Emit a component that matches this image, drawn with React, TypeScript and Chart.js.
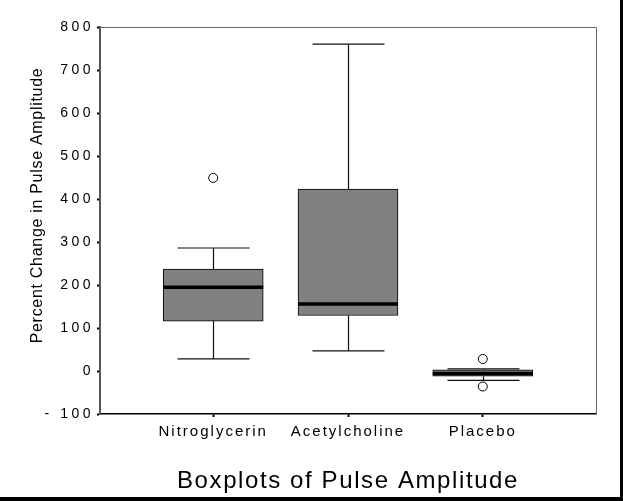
import React, { useEffect, useRef } from 'react';
import { Chart, registerables } from 'chart.js';

Chart.register(...registerables);

// ---- data ----
const categories = ['Nitroglycerin', 'Acetylcholine', 'Placebo'];
const whiskerLow = [28, 47, -22];
const quartile1 = [116, 129, -12];
const medians = [195, 156, -6];
const quartile3 = [237, 423, 3];
const whiskerHigh = [286, 760, 5];
const outlierCategory = [1, 3, 3];
const outlierValues = [449, 28, -36];
const yTickValues = [-100, 0, 100, 200, 300, 400, 500, 600, 700, 800];
const chartTitle = 'Boxplots of Pulse Amplitude';
const yAxisTitle = 'Percent Change in Pulse Amplitude';

// ---- styles ----
const FONT = '"Liberation Sans", Arial, Helvetica, sans-serif';
const CANVAS_W = 620;
const CANVAS_H = 497;
const BOX_W = 100;
const CAP_W = 72;

const boxplotPlugin = {
  id: 'boxplotExtras',
  beforeLayout(chart: any) {
    chart.ctx.letterSpacing = '2px';
  },
  beforeDraw(chart: any) {
    // spacing for x category labels (drawn before datasets)
    chart.ctx.letterSpacing = '2px';
  },
  beforeDatasetsDraw(chart: any) {
    const { ctx, scales } = chart;
    const x = scales.x;
    const y = scales.y;
    ctx.save();
    ctx.strokeStyle = '#111';
    ctx.lineWidth = 1.2;
    categories.forEach((_, i) => {
      const cx = Math.round(x.getPixelForValue(i + 1)) + 0.5;
      const yHi = y.getPixelForValue(whiskerHigh[i]);
      const yLo = y.getPixelForValue(whiskerLow[i]);
      const yQ3 = y.getPixelForValue(quartile3[i]);
      const yQ1 = y.getPixelForValue(quartile1[i]);
      ctx.beginPath();
      ctx.moveTo(cx, yQ3);
      ctx.lineTo(cx, yHi);
      ctx.moveTo(cx, yQ1);
      ctx.lineTo(cx, yLo);
      ctx.moveTo(cx - CAP_W / 2, yHi);
      ctx.lineTo(cx + CAP_W / 2, yHi);
      ctx.moveTo(cx - CAP_W / 2, yLo);
      ctx.lineTo(cx + CAP_W / 2, yLo);
      ctx.stroke();
    });
    ctx.restore();
  },
  afterDatasetsDraw(chart: any) {
    const { ctx, scales } = chart;
    const x = scales.x;
    const y = scales.y;
    ctx.save();
    ctx.strokeStyle = '#000';
    ctx.lineWidth = 3.5;
    categories.forEach((_, i) => {
      const cx = x.getPixelForValue(i + 1);
      const ym = y.getPixelForValue(medians[i]);
      ctx.beginPath();
      ctx.moveTo(cx - BOX_W / 2, ym);
      ctx.lineTo(cx + BOX_W / 2, ym);
      ctx.stroke();
    });
    ctx.restore();
    // spacing for y tick labels (drawn after datasets, z = 1)
    ctx.letterSpacing = '3.5px';
  },
  afterDraw(chart: any) {
    const { ctx, chartArea } = chart;
    ctx.save();
    // top and right frame
    ctx.strokeStyle = '#666';
    ctx.lineWidth = 1;
    ctx.beginPath();
    ctx.moveTo(chartArea.left, chartArea.top + 0.5);
    ctx.lineTo(chartArea.right + 0.5, chartArea.top + 0.5);
    ctx.lineTo(chartArea.right + 0.5, chartArea.bottom);
    ctx.stroke();

    // y axis title
    ctx.fillStyle = '#000';
    ctx.textAlign = 'center';
    ctx.textBaseline = 'alphabetic';
    ctx.letterSpacing = '0.7px';
    ctx.font = `16px ${FONT}`;
    ctx.save();
    ctx.translate(41.5, (chartArea.top + chartArea.bottom) / 2 - 15);
    ctx.rotate(-Math.PI / 2);
    ctx.fillText(yAxisTitle, 0, 0);
    ctx.restore();

    // main title below chart
    ctx.letterSpacing = '1.6px';
    ctx.font = `24px ${FONT}`;
    ctx.fillText(chartTitle, (chartArea.left + chartArea.right) / 2, 488);
    ctx.restore();
  },
};

export default function App() {
  const canvasRef = useRef<HTMLCanvasElement | null>(null);

  useEffect(() => {
    document.body.style.margin = '0';
    const canvas = canvasRef.current;
    if (!canvas) return;

    const chart = new Chart(canvas, {
      type: 'bar',
      data: {
        datasets: [
          {
            type: 'bar',
            data: categories.map((_, i) => ({ x: i + 1, y: [quartile1[i], quartile3[i]] })) as any,
            backgroundColor: '#808080',
            borderColor: '#000',
            borderWidth: 1,
            borderSkipped: false,
            barThickness: BOX_W,
          },
          {
            type: 'scatter',
            data: outlierValues.map((v, i) => ({ x: outlierCategory[i], y: v })),
            pointRadius: 4.5,
            pointBackgroundColor: '#fff',
            pointBorderColor: '#000',
            pointBorderWidth: 1,
            showLine: false,
          } as any,
        ],
      },
      options: {
        responsive: false,
        animation: false,
        devicePixelRatio: 1,
        layout: { padding: { left: 0, top: 27, right: 24, bottom: 0 } },
        plugins: {
          legend: { display: false },
          tooltip: { enabled: false },
          title: { display: false },
        },
        scales: {
          x: {
            type: 'linear',
            min: 0.16,
            max: 3.84,
            offset: false,
            afterBuildTicks: (s: any) => {
              s.ticks = categories.map((_, i) => ({ value: i + 1 }));
            },
            afterFit: (s: any) => {
              s.height = 83;
            },
            ticks: {
              autoSkip: false,
              maxRotation: 0,
              padding: 6,
              color: '#000',
              font: { family: FONT, size: 15 },
              callback: (v: any) => categories[Math.round(Number(v)) - 1] ?? '',
            },
            grid: {
              offset: false,
              drawOnChartArea: false,
              drawTicks: true,
              tickLength: 3,
              tickWidth: 2,
              tickColor: '#000',
            },
            border: { color: '#000', width: 1.5 },
          } as any,
          y: {
            type: 'linear',
            min: -100,
            max: 800,
            afterBuildTicks: (s: any) => {
              s.ticks = yTickValues.map((v) => ({ value: v }));
            },
            afterFit: (s: any) => {
              s.width = 100;
            },
            ticks: {
              z: 1,
              padding: 3,
              color: '#000',
              font: { family: FONT, size: 14 },
              callback: (v: any) => (Number(v) < 0 ? '- ' + Math.abs(Number(v)) : String(v)),
            },
            grid: {
              drawOnChartArea: false,
              drawTicks: true,
              tickLength: 3,
              tickWidth: 2,
              tickColor: '#000',
            },
            border: { color: '#555', width: 2 },
          } as any,
        },
      },
      plugins: [boxplotPlugin],
    });

    return () => chart.destroy();
  }, []);

  return (
    <div
      style={{
        width: 623,
        height: 501,
        boxSizing: 'border-box',
        borderRight: '3px solid #000',
        borderBottom: '4px solid #000',
        background: '#fff',
        overflow: 'hidden',
      }}
    >
      <canvas
        ref={canvasRef}
        width={CANVAS_W}
        height={CANVAS_H}
        style={{ display: 'block', width: CANVAS_W, height: CANVAS_H }}
      />
    </div>
  );
}
